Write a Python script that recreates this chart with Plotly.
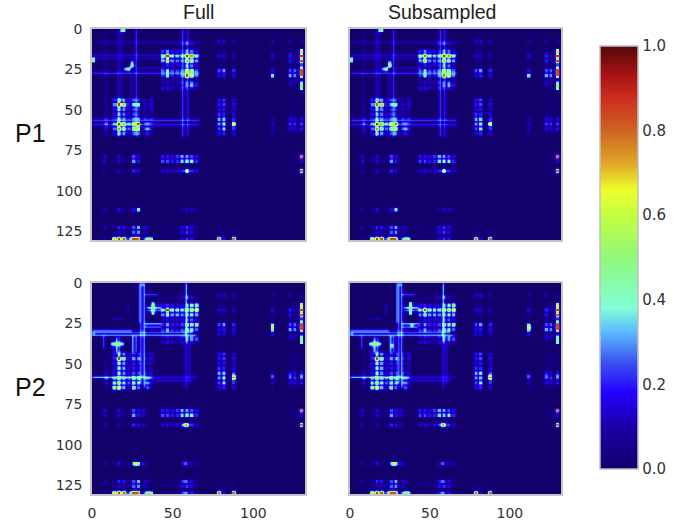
import numpy as np
import plotly.graph_objects as go

N_ROWS, N_COLS = 131, 133
TITLES = ["Full", "Subsampled"]
ROW_LABELS = ["P1", "P2"]
Y_TICKS = [0, 25, 50, 75, 100, 125]
X_TICKS = [0, 50, 100]
CBAR_TICKS = [0.0, 0.2, 0.4, 0.6, 0.8, 1.0]

# feature groups (matrix indices)
GA = [13, 16, 19, 22, 25, 28, 34]
GB = [43, 46, 49, 52, 55, 58, 61, 64]
GC = [78, 81, 87]
GD = [111]
GE = [122, 125, 129]
GF = [8, 32, 36]

P1_AB = [
    [.24, .34, .20, .18, .18, .36, .32, .16],
    [.50, 1.0, .46, .40, .44, 1.0, .85, .50],
    [.36, .80, .34, .32, .34, .78, .62, .36],
    [.12, .22, .16, .16, .20, .40, .32, .14],
    [.24, .38, .22, .22, .30, .70, .55, .26],
    [.22, .50, .20, .18, .32, .92, .64, .30],
    [.02, .04, .02, .02, .08, .30, .34, .20],
]
P2_AB = [
    [.16, .22, .20, .18, .18, .40, .46, .54],
    [.44, 1.0, .52, .50, .48, .70, .62, .76],
    [.34, .56, .36, .38, .34, .46, .44, .38],
    [.12, .20, .16, .18, .18, .32, .30, .16],
    [.22, .36, .22, .22, .28, .56, .46, .55],
    [.18, .32, .16, .14, .22, .52, .40, .30],
    [.03, .05, .03, .03, .08, .30, .30, .26],
]
AC = [
    [.05, .05, .03], [.18, .18, .14], [.05, .05, .03], [.03, .03, .03],
    [.28, .36, .24], [.20, .22, .20], [.03, .03, .03],
]
BC = [
    [.22, .28, .16], [.22, .28, .20], [.20, .22, .15], [.26, .24, .20],
    [.38, .42, .24], [.36, .50, .76], [.28, .44, .26], [.20, .24, .16],
]
AD = [[.05], [.20], [.05], [.03], [.20], [.50], [.03]]
BD = [[.0], [.0], [.0], [.0], [.10], [.16], [.13], [.07]]
AE = [
    [.06, .06, .78], [.24, .15, 1.0], [.22, .12, .96], [.06, .06, .24],
    [.28, .30, .80], [.38, .34, .80], [.10, .06, .50],
]
BE = [
    [.04, .04, .04], [.04, .04, .04], [.04, .04, .04], [.04, .04, .04],
    [.19, .19, .19], [.26, .26, .26], [.19, .19, .22], [.05, .05, .05],
]
BF = [
    [.03, .12, .17], [.05, .16, .20], [.06, .14, .14], [.09, .12, .10],
    [.16, .20, .17], [.30, .27, .20], [.18, .24, .15], [.08, .10, .05],
]
CE = [[.03, .03, .90], [.03, .03, .16], [.03, .03, .92]]
EDGE_POINTS = [(129, 13, .74), (129, 19, .62), (129, 24, .56), (129, 27, .72),
               (129, 32, .30), (129, 36, .46), (129, 78, .72), (129, 87, .92),
               (122, 32, .14), (125, 32, .12), (7, 78, .16), (7, 81, .16),
               (7, 87, .11), (7, 111, .11), (7, 122, .12), (7, 129, .09)]

# lines: index, start, end, value (mirrored across the diagonal)
P1_LINES = [
    (8, 0, 66, .09), (16, 0, 66, .16), (18, 0, 44, .12), (27, 0, 66, .25),
    (24, 28, 44, .14), (56, 0, 66, .27), (59, 0, 66, .23),
]
P1_POINTS = [(0, 18, .48), (0, 19, .42), (22, 24, .50), (20, 24, .32)]

P2_LINES = [
    (29, 0, 24, .23), (32, 0, 64, .34), (30, 0, 62, .28), (58, 0, 36, .40),
    (58, 36, 65, .20), (7, 33, 40, .27), (15, 34, 42, .44), (17, 34, 42, .30),
    (25, 33, 42, .38), (27, 33, 42, .30), (13, 36, 46, .17), (22, 12, 19, .13),
    (60, 38, 62, .17),
]
P2_POINTS = [(0, 30, .22), (37, 12, .38), (37, 14, .38), (37, 16, .38), (37, 18, .38),
             (26, 111, .60), (31, 111, .19), (31, 78, .16), (31, 81, .16), (31, 87, .14),
             (57, 87, .54), (57, 111, .26), (57, 122, .26), (57, 129, .30)]

# cells that differ in the subsampled runs
P1_SUB_POINTS = [(16, 46, .92), (28, 58, .85), (19, 61, .56), (58, 81, .44)]
P2_SUB_POINTS = [(16, 46, .98), (28, 58, .48), (25, 38, .34), (58, 81, .40)]

SOFTEN = [.2, .6, .2]
GAIN = 1.35


def put_cell(z, a, b, v):
    if a < N_ROWS and b < N_COLS and z[a, b] < v:
        z[a, b] = v


def put_line(z, idx, k, v):
    put_cell(z, idx, k, v)
    put_cell(z, k, idx, v)


def put(z, r, c, v):
    for a, b in ((r, c), (c, r)):
        a0, b0 = min(a, N_ROWS - 2), min(b, N_COLS - 2)
        cell = z[a0:a0 + 2, b0:b0 + 2]
        cell[cell < v] = v


def block(z, rows, cols, vals):
    for i, r in enumerate(rows):
        for j, c in enumerate(cols):
            put(z, r, c, vals[i][j])


def build(ab, lines, points, overrides=()):
    z = np.zeros((N_ROWS, N_COLS))
    for idx, a, b, v in lines:
        for k in range(a, b + 1):
            put_line(z, idx, k, v)
    block(z, GA, GB, ab)
    block(z, GA, GC, AC)
    block(z, GB, GC, BC)
    block(z, GA, GD, AD)
    block(z, GB, GD, BD)
    block(z, GA, GE, AE)
    block(z, GB, GE, BE)
    block(z, GB, GF, BF)
    block(z, GC, GE, CE)
    for r, c, v in EDGE_POINTS + list(points):
        put(z, r, c, v)
    for r, c, v in overrides:
        z[r:r + 2, c:c + 2] = v
        z[c:c + 2, r:r + 2] = v
    z = np.apply_along_axis(lambda m: np.convolve(m, SOFTEN, mode="same"), 0, z)
    z = np.apply_along_axis(lambda m: np.convolve(m, SOFTEN, mode="same"), 1, z)
    return np.clip(z * GAIN, 0, 1)


PANELS = [
    [build(P1_AB, P1_LINES, P1_POINTS), build(P1_AB, P1_LINES, P1_POINTS, P1_SUB_POINTS)],
    [build(P2_AB, P2_LINES, P2_POINTS), build(P2_AB, P2_LINES, P2_POINTS, P2_SUB_POINTS)],
]

W, H = 673, 521
X_DOM = [(92, 305), (350, 561)]
Y_DOM = [(29, 240), (283, 494)]
TITLE_X = [198, 442]
COLORS = [
    [0.0, "#12006b"], [0.10, "#1a00a8"], [0.18, "#2400ff"], [0.25, "#3c50f0"],
    [0.32, "#5ab4ff"], [0.38, "#80ffd8"], [0.50, "#90f878"], [0.60, "#c4ff40"],
    [0.66, "#ecff2a"], [0.72, "#e0a828"], [0.80, "#cf6420"], [0.88, "#cc2a20"],
    [0.93, "#a81414"], [1.0, "#560808"],
]
AXIS_STYLE = dict(
    showgrid=False, zeroline=False, ticks="outside", ticklen=5, tickcolor="rgba(0,0,0,0)",
    showline=True, mirror=True, linecolor="#c4c4c4", linewidth=1.5, automargin=False,
    tickfont=dict(family="DejaVu Sans", size=14, color="#333333"),
)

fig = go.Figure()
for i in range(2):
    for j in range(2):
        n = i * 2 + j + 1
        fig.add_trace(go.Heatmap(
            z=PANELS[i][j], x=list(range(N_COLS)), y=list(range(N_ROWS)),
            coloraxis="coloraxis", zsmooth="best", xaxis=f"x{n}", yaxis=f"y{n}",
        ))
        fig.layout[f"xaxis{n}"] = dict(
            domain=[X_DOM[j][0] / W, X_DOM[j][1] / W], range=[0, 132], anchor=f"y{n}",
            tickvals=X_TICKS, showticklabels=(i == 1), **AXIS_STYLE,
        )
        fig.layout[f"yaxis{n}"] = dict(
            domain=[1 - Y_DOM[i][1] / H, 1 - Y_DOM[i][0] / H], range=[130.5, 0], anchor=f"x{n}",
            tickvals=Y_TICKS, showticklabels=(j == 0), **AXIS_STYLE,
        )

annotations = []
for j, t in enumerate(TITLES):
    annotations.append(dict(text=t, x=TITLE_X[j] / W, y=1 - 12 / H, xref="paper", yref="paper",
                            showarrow=False, xanchor="center", yanchor="middle",
                            font=dict(family="Liberation Sans", size=19.5, color="#222222")))
for i, t in enumerate(ROW_LABELS):
    annotations.append(dict(text=t, x=30 / W, y=1 - (133 + i * 254) / H, xref="paper", yref="paper",
                            showarrow=False, xanchor="center", yanchor="middle",
                            font=dict(family="Liberation Sans", size=25, color="#111111")))

fig.update_layout(
    width=W, height=H, margin=dict(l=0, r=0, t=0, b=0),
    paper_bgcolor="white", plot_bgcolor="white", showlegend=False,
    annotations=annotations,
    coloraxis=dict(
        cmin=0, cmax=1, colorscale=COLORS,
        colorbar=dict(
            x=600 / W, xanchor="left", xpad=0, y=1 - 257.5 / H, yanchor="middle", ypad=0,
            lenmode="pixels", len=423, thicknessmode="pixels", thickness=38,
            tickvals=CBAR_TICKS, tickformat=".1f", ticks="", ticklen=0,
            outlinecolor="#c0c0c0", outlinewidth=1.5,
            tickfont=dict(family="DejaVu Sans", size=15, color="#333333"),
        ),
    ),
)

fig.write_html("out.html", config={"displayModeBar": False},
               post_script="document.body.style.margin='0';")
